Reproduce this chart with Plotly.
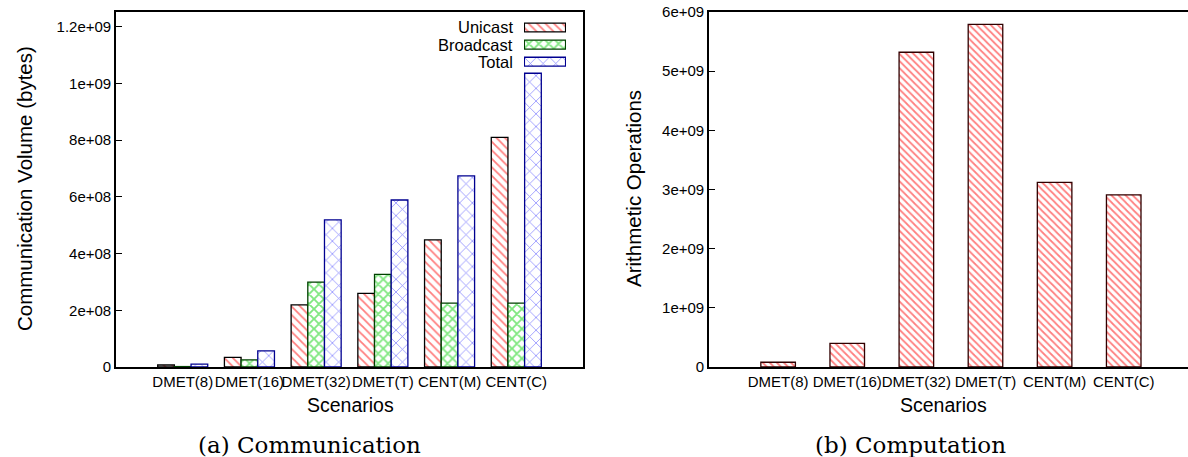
import plotly.graph_objects as go

scenarios = ["DMET(8)", "DMET(16)", "DMET(32)", "DMET(T)", "CENT(M)", "CENT(C)"]
unicast = [7e6, 3.4e7, 2.19e8, 2.6e8, 4.48e8, 8.1e8]
broadcast = [1.5e6, 2.5e7, 2.99e8, 3.27e8, 2.25e8, 2.25e8]
total = [1.0e7, 5.7e7, 5.19e8, 5.89e8, 6.74e8, 1.036e9]
arith_ops = [8e7, 4.0e8, 5.32e9, 5.79e9, 3.12e9, 2.91e9]

comm_tickvals = [0, 2e8, 4e8, 6e8, 8e8, 1e9, 1.2e9]
comm_ticktext = ["0", "2e+08", "4e+08", "6e+08", "8e+08", "1e+09", "1.2e+09"]
comp_tickvals = [0, 1e9, 2e9, 3e9, 4e9, 5e9, 6e9]
comp_ticktext = ["0", "1e+09", "2e+09", "3e+09", "4e+09", "5e+09", "6e+09"]

series_names = ["Unicast", "Broadcast", "Total"]
legend_key_len = [1, 1, 1]  # full-length key swatches for the legend

W, H = 1188, 457
FONT = "Liberation Sans, Arial, sans-serif"

styles = {
    "Unicast": dict(color="white", line=dict(color="#000000", width=1.3),
                    pattern=dict(shape="\\", fgcolor="#ff0000", bgcolor="white",
                                 size=6, solidity=0.3, fillmode="overlay")),
    "Broadcast": dict(color="white", line=dict(color="#004000", width=1.3),
                      pattern=dict(shape="x", fgcolor="#00d000", bgcolor="white",
                                   size=7, solidity=0.45, fillmode="overlay")),
    "Total": dict(color="white", line=dict(color="#000090", width=1.3),
                  pattern=dict(shape="x", fgcolor="#1010ff", bgcolor="white",
                               size=9, solidity=0.16, fillmode="overlay")),
}

fig = go.Figure()

for nm, vals in zip(series_names, [unicast, broadcast, total]):
    fig.add_trace(go.Bar(x=scenarios, y=vals, name=nm, xaxis="x", yaxis="y",
                         marker=styles[nm], showlegend=False))

fig.add_trace(go.Bar(x=scenarios, y=arith_ops, name="Arithmetic Operations", xaxis="x2", yaxis="y2",
                     showlegend=False, width=0.5,
                     marker=dict(color="white", line=dict(color="#300000", width=1.3),
                                 pattern=dict(shape="\\", fgcolor="#ff0000", bgcolor="white",
                                              size=5, solidity=0.35, fillmode="overlay"))))

# legend key swatches (gnuplot-style: text on the left, wide swatch on the right)
for nm, ln in zip(series_names, legend_key_len):
    fig.add_trace(go.Bar(x=[ln], y=[nm], orientation="h", xaxis="x3", yaxis="y3",
                         marker=styles[nm], width=0.52, showlegend=False, hoverinfo="skip"))

# geometry (paper fractions)
lx0, lx1 = 116 / W, 583 / W
rx0, rx1 = 709 / W, 1.0
y0, y1 = 1 - 367 / H, 1 - 12 / H

axis_common = dict(showline=True, linecolor="black", linewidth=1.6, mirror=True,
                   showgrid=False, zeroline=False, automargin=False,
                   tickfont=dict(family=FONT, size=15, color="black"))

row0, row_step = 27.5, 17.1
fig.update_layout(
    width=W, height=H,
    margin=dict(l=0, r=0, t=0, b=0, autoexpand=False),
    paper_bgcolor="white", plot_bgcolor="white",
    barmode="group", bargap=0.25, bargroupgap=0,
    showlegend=False,
    xaxis=dict(domain=[lx0, lx1], anchor="y", range=[-1, 6], ticks="", tickangle=0,
               **axis_common),
    yaxis=dict(domain=[y0, y1], anchor="x", range=[0, 1.252e9],
               tickvals=comm_tickvals, ticktext=comm_ticktext,
               ticks="inside", ticklen=6, tickcolor="black", tickwidth=1.2,
               **axis_common),
    xaxis2=dict(domain=[rx0, rx1], anchor="y2", range=[-1, 5.93], ticks="", tickangle=0,
                **axis_common),
    yaxis2=dict(domain=[y0, y1], anchor="x2", range=[0, 6e9],
                tickvals=comp_tickvals, ticktext=comp_ticktext,
                ticks="inside", ticklen=6, tickcolor="black", tickwidth=1.2,
                **axis_common),
    xaxis3=dict(domain=[524 / W, 566 / W], anchor="y3", range=[-0.01, 1.01], visible=False,
                fixedrange=True, automargin=False),
    yaxis3=dict(domain=[1 - (row0 + 2.5 * row_step) / H, 1 - (row0 - 0.5 * row_step) / H],
                anchor="x3", range=[2.5, -0.5], visible=False, fixedrange=True, automargin=False,
                categoryorder="array", categoryarray=series_names),
)

def label(text, x, y, size, angle=0, family=FONT, xanchor="center"):
    fig.add_annotation(x=x / W, y=1 - y / H, xref="paper", yref="paper",
                       xanchor=xanchor, yanchor="middle", showarrow=False, text=text,
                       textangle=angle, font=dict(family=family, size=size, color="black"))

# axis titles
label("Communication Volume (bytes)", 24, 189, 20.5, angle=-90)
label("Arithmetic Operations", 633, 189, 20.5, angle=-90)
label("Scenarios", 350, 405, 19.5)
label("Scenarios", 943, 405, 19.5)

# legend labels, right-aligned to the left of the swatches
for i, nm in enumerate(series_names):
    label(nm, 515, row0 + row_step * i, 16.5, xanchor="right")

# sub-figure captions
label("(a) Communication", 309, 445, 23, family="DejaVu Serif, serif")
label("(b) Computation", 910, 445, 23, family="DejaVu Serif, serif")

fig.write_html("out.html")
